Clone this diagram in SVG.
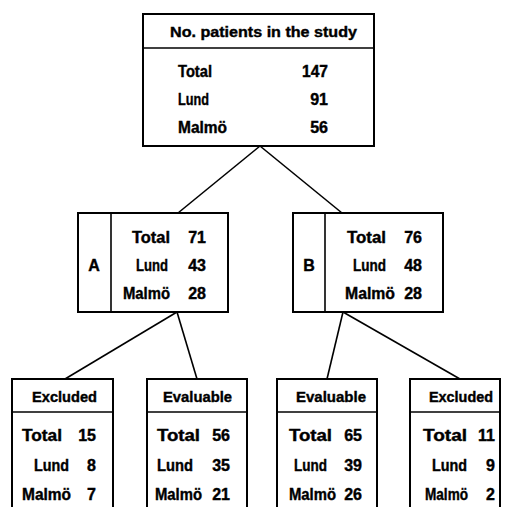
<svg xmlns="http://www.w3.org/2000/svg" width="508" height="507" viewBox="0 0 508 507">
<style>
.box{fill:#fff;stroke:#000;stroke-width:2}
.ln{stroke:#000;stroke-width:1.6;fill:none}
text{font-family:"Liberation Sans",Arial,sans-serif;font-weight:bold;font-size:16px;fill:#000;stroke:#000;stroke-width:0.4}
.n{text-anchor:end}
.h{font-size:15px}
</style>
<rect width="508" height="507" fill="#fff"/>
<g id="connectors">
<line class="ln" x1="260" y1="146" x2="178" y2="213"/>
<line class="ln" x1="260" y1="146" x2="342" y2="213"/>
<line class="ln" x1="177" y1="312" x2="65" y2="379"/>
<line class="ln" x1="177" y1="312" x2="197" y2="379"/>
<line class="ln" x1="343" y1="312" x2="327" y2="379"/>
<line class="ln" x1="343" y1="312" x2="460" y2="379"/>
</g>
<g id="top">
<rect class="box" x="143" y="14" width="231" height="132"/>
<line class="ln" x1="143" y1="48" x2="374" y2="48"/>
<text class="h" x="170" y="37" textLength="187" lengthAdjust="spacingAndGlyphs">No. patients in the study</text>
<text x="178" y="77" textLength="34" lengthAdjust="spacingAndGlyphs">Total</text>
<text x="178" y="105" textLength="31" lengthAdjust="spacingAndGlyphs">Lund</text>
<text x="178" y="133" textLength="49" lengthAdjust="spacingAndGlyphs">Malmö</text>
<text class="n" x="328" y="77" textLength="26" lengthAdjust="spacingAndGlyphs">147</text>
<text class="n" x="328" y="105">91</text>
<text class="n" x="328" y="133">56</text>
</g>
<g id="groupA">
<rect class="box" x="78" y="213" width="150" height="99"/>
<line class="ln" x1="111" y1="213" x2="111" y2="312"/>
<text x="94" y="271" text-anchor="middle">A</text>
<text x="132" y="243" textLength="38" lengthAdjust="spacingAndGlyphs">Total</text>
<text x="136" y="271" textLength="32" lengthAdjust="spacingAndGlyphs">Lund</text>
<text x="123" y="299" textLength="47" lengthAdjust="spacingAndGlyphs">Malmö</text>
<text class="n" x="206" y="243">71</text>
<text class="n" x="206" y="271">43</text>
<text class="n" x="206" y="299">28</text>
</g>
<g id="groupB">
<rect class="box" x="293" y="213" width="150" height="99"/>
<line class="ln" x1="325" y1="213" x2="325" y2="312"/>
<text x="309" y="271" text-anchor="middle">B</text>
<text x="347" y="243" textLength="39" lengthAdjust="spacingAndGlyphs">Total</text>
<text x="353" y="271" textLength="33" lengthAdjust="spacingAndGlyphs">Lund</text>
<text x="345" y="299" textLength="50" lengthAdjust="spacingAndGlyphs">Malmö</text>
<text class="n" x="422" y="243">76</text>
<text class="n" x="422" y="271">48</text>
<text class="n" x="422" y="299">28</text>
</g>
<g id="excludedA">
<rect class="box" x="12" y="379" width="101" height="140"/>
<line class="ln" x1="12" y1="412" x2="113" y2="412"/>
<text class="h" x="32" y="402" textLength="65" lengthAdjust="spacingAndGlyphs">Excluded</text>
<text x="22" y="441" textLength="40" lengthAdjust="spacingAndGlyphs">Total</text>
<text x="34" y="471" textLength="35" lengthAdjust="spacingAndGlyphs">Lund</text>
<text x="22" y="500" textLength="49" lengthAdjust="spacingAndGlyphs">Malmö</text>
<text class="n" x="96" y="441">15</text>
<text class="n" x="96" y="471">8</text>
<text class="n" x="96" y="500">7</text>
</g>
<g id="evaluableA">
<rect class="box" x="147" y="379" width="100" height="140"/>
<line class="ln" x1="147" y1="412" x2="247" y2="412"/>
<text class="h" x="163" y="402" textLength="69" lengthAdjust="spacingAndGlyphs">Evaluable</text>
<text x="157" y="441" textLength="43" lengthAdjust="spacingAndGlyphs">Total</text>
<text x="157" y="471" textLength="36" lengthAdjust="spacingAndGlyphs">Lund</text>
<text x="155" y="500" textLength="47" lengthAdjust="spacingAndGlyphs">Malmö</text>
<text class="n" x="230" y="441">56</text>
<text class="n" x="230" y="471">35</text>
<text class="n" x="230" y="500">21</text>
</g>
<g id="evaluableB">
<rect class="box" x="277" y="379" width="100" height="140"/>
<line class="ln" x1="277" y1="412" x2="377" y2="412"/>
<text class="h" x="296" y="402" textLength="70" lengthAdjust="spacingAndGlyphs">Evaluable</text>
<text x="289" y="441" textLength="43" lengthAdjust="spacingAndGlyphs">Total</text>
<text x="294" y="471" textLength="33" lengthAdjust="spacingAndGlyphs">Lund</text>
<text x="289" y="500" textLength="47" lengthAdjust="spacingAndGlyphs">Malmö</text>
<text class="n" x="362" y="441">65</text>
<text class="n" x="362" y="471">39</text>
<text class="n" x="362" y="500">26</text>
</g>
<g id="excludedB">
<rect class="box" x="410" y="379" width="90" height="140"/>
<line class="ln" x1="410" y1="412" x2="500" y2="412"/>
<text class="h" x="429" y="402" textLength="64" lengthAdjust="spacingAndGlyphs">Excluded</text>
<text x="423" y="441" textLength="44" lengthAdjust="spacingAndGlyphs">Total</text>
<text x="432" y="471" textLength="35" lengthAdjust="spacingAndGlyphs">Lund</text>
<text x="425" y="500" textLength="43" lengthAdjust="spacingAndGlyphs">Malmö</text>
<text class="n" x="495" y="441">11</text>
<text class="n" x="495" y="471">9</text>
<text class="n" x="495" y="500">2</text>
</g>
</svg>
